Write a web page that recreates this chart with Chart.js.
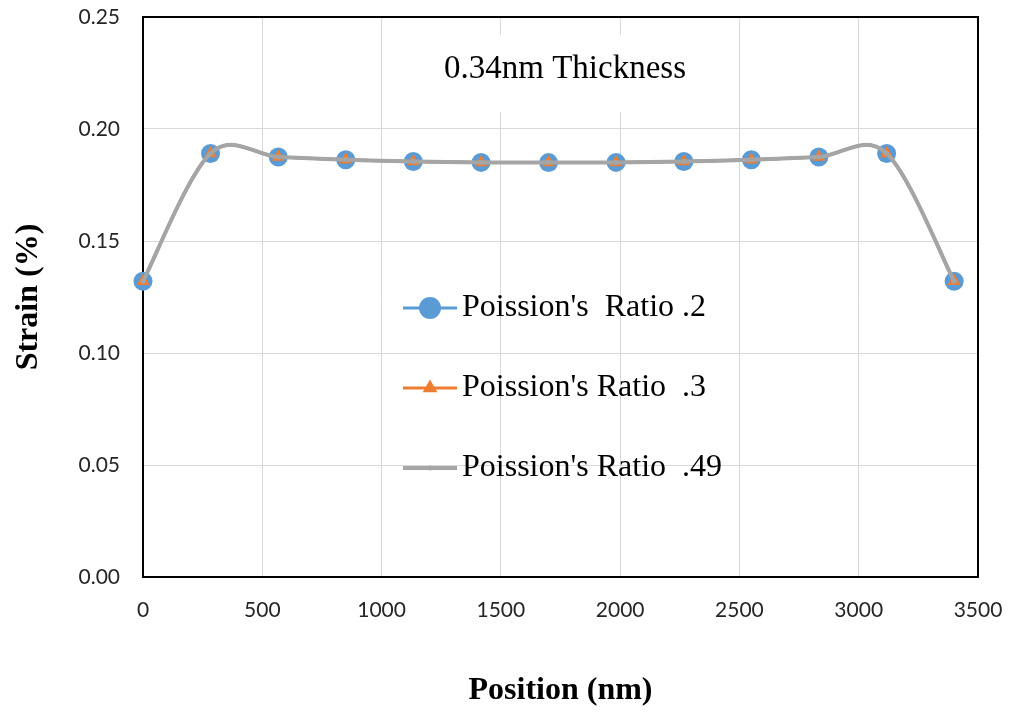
<!DOCTYPE html>
<html>
<head>
<meta charset="utf-8">
<script src="https://cdn.jsdelivr.net/npm/chart.js"></script>
<style>
html,body{margin:0;padding:0;background:#fff;}
#wrap{width:1010px;height:713px;}
</style>
</head>
<body>
<div id="wrap"><canvas id="c" width="1010" height="713"></canvas></div>
<script>
// ---- data ----
const positions = [0, 283, 567, 850, 1133, 1417, 1700, 1983, 2267, 2550, 2833, 3117, 3400];
const ratio02  = [0.1320, 0.1891, 0.1875, 0.1863, 0.1855, 0.1851, 0.1850, 0.1851, 0.1855, 0.1863, 0.1875, 0.1891, 0.1320];
const ratio03  = [0.1320, 0.1891, 0.1875, 0.1863, 0.1855, 0.1851, 0.1850, 0.1851, 0.1855, 0.1863, 0.1875, 0.1891, 0.1320];
const ratio049 = [0.1320, 0.1891, 0.1875, 0.1863, 0.1855, 0.1851, 0.1850, 0.1851, 0.1855, 0.1863, 0.1875, 0.1891, 0.1320];
const seriesLabels = ["Poission's  Ratio .2", "Poission's Ratio  .3", "Poission's Ratio  .49"];
const xTickValues = [0, 500, 1000, 1500, 2000, 2500, 3000, 3500];
const yTickValues = [0, 0.05, 0.10, 0.15, 0.20, 0.25];
const yTickLabels = ['0.00', '0.05', '0.10', '0.15', '0.20', '0.25'];
const chartTitle = '0.34nm Thickness';
const xTitle = 'Position (nm)';
const yTitle = 'Strain (%)';

const BLUE = '#5B9BD5', ORANGE = '#ED7D31', GRAY = '#A5A5A5';
const pts = arr => positions.map((x, i) => ({x: x, y: arr[i]}));

// Excel-style (Catmull-Rom) smoothing of the library's own line path
const smoothing = {
  id: 'smoothing',
  beforeDatasetDraw(chart, args) {
    const meta = args.meta;
    const p = meta.data;
    const n = p.length;
    for (let i = 0; i < n; i++) {
      const a = p[Math.max(i - 1, 0)], b = p[Math.min(i + 1, n - 1)];
      const dx = (b.x - a.x) / 6, dy = (b.y - a.y) / 6;
      p[i].cp1x = p[i].x - dx; p[i].cp1y = p[i].y - dy;
      p[i].cp2x = p[i].x + dx; p[i].cp2y = p[i].y + dy;
    }
    if (meta.dataset) { meta.dataset._pointsUpdated = true; delete meta.dataset._path; }
  }
};

const decor = {
  id: 'decor',
  beforeDatasetsDraw(chart) {
    const {ctx, chartArea: a} = chart;
    ctx.save();
    ctx.strokeStyle = '#000';
    ctx.lineWidth = 2;
    ctx.beginPath();
    ctx.moveTo(a.left, a.top);
    ctx.lineTo(a.right, a.top);
    ctx.lineTo(a.right, a.bottom);
    ctx.stroke();
    ctx.fillStyle = '#fff';
    ctx.fillRect(430, 35, 270, 77);
    ctx.fillStyle = '#000';
    ctx.font = '33px "Liberation Serif", "Times New Roman", serif';
    ctx.textAlign = 'center';
    ctx.textBaseline = 'alphabetic';
    ctx.fillText(chartTitle, 565, 78);
    ctx.restore();
  },
  afterDatasetsDraw(chart) {
    const {ctx} = chart;
    ctx.save();
    const rows = [308, 388, 468];
    chart.data.datasets.forEach((ds, i) => {
      const y = rows[i];
      ctx.strokeStyle = ds.borderColor;
      ctx.lineWidth = ds.borderWidth;
      ctx.beginPath();
      ctx.moveTo(403, y);
      ctx.lineTo(457, y);
      ctx.stroke();
      ctx.fillStyle = ds.pointBackgroundColor;
      ctx.beginPath();
      if (ds.pointStyle === 'circle' && ds.pointRadius > 5) {
        ctx.arc(430, y, 11, 0, Math.PI * 2);
      } else if (ds.pointStyle === 'triangle') {
        const r = 8.5;
        ctx.moveTo(430, y - r);
        ctx.lineTo(430 + r * Math.sin(Math.PI * 2 / 3), y - r * Math.cos(Math.PI * 2 / 3));
        ctx.lineTo(430 - r * Math.sin(Math.PI * 2 / 3), y - r * Math.cos(Math.PI * 2 / 3));
        ctx.closePath();
      } else {
        ctx.arc(430, y, 2.5, 0, Math.PI * 2);
      }
      ctx.fill();
      ctx.fillStyle = '#000';
      ctx.font = '32px "Liberation Serif", "Times New Roman", serif';
      ctx.textAlign = 'left';
      ctx.textBaseline = 'middle';
      ctx.fillText(ds.label, 462, y);
    });
    ctx.restore();
  }
};

new Chart(document.getElementById('c'), {
  type: 'line',
  data: {
    datasets: [
      {label: seriesLabels[0], data: pts(ratio02), borderColor: BLUE, backgroundColor: BLUE,
       pointBackgroundColor: BLUE, pointBorderColor: BLUE, pointStyle: 'circle', pointRadius: 9.5,
       pointBorderWidth: 0, borderWidth: 3, tension: 0.4, order: 3, clip: false},
      {label: seriesLabels[1], data: pts(ratio03), borderColor: ORANGE, backgroundColor: ORANGE,
       pointBackgroundColor: ORANGE, pointBorderColor: ORANGE, pointStyle: 'triangle', pointRadius: 7.5,
       pointBorderWidth: 0, borderWidth: 3, tension: 0.4, order: 2, clip: false},
      {label: seriesLabels[2], data: pts(ratio049), borderColor: GRAY, backgroundColor: GRAY,
       pointBackgroundColor: GRAY, pointBorderColor: GRAY, pointStyle: 'circle', pointRadius: 2.5,
       pointBorderWidth: 0, borderWidth: 4, tension: 0.4, order: 1, clip: false}
    ]
  },
  options: {
    responsive: false,
    animation: false,
    events: [],
    layout: {padding: {top: 17, right: 32, left: 0, bottom: 0}},
    plugins: {legend: {display: false}, tooltip: {enabled: false}},
    scales: {
      x: {
        type: 'linear', min: 0, max: 3500,
        afterBuildTicks: s => { s.ticks = xTickValues.map(v => ({value: v})); },
        afterFit: s => { s.height = 136; s.paddingLeft = 0; s.paddingRight = 0; },
        grid: {color: '#D9D9D9', lineWidth: 1, drawTicks: false},
        border: {color: '#000', width: 2},
        ticks: {padding: 21, color: '#262626', font: {family: 'Lato', size: 21},
                callback: v => String(v)},
        title: {display: true, text: xTitle, color: '#000', padding: {top: 0, bottom: 3},
                font: {family: '"Liberation Serif", "Times New Roman", serif', size: 32, weight: 'bold'}}
      },
      y: {
        min: 0, max: 0.25,
        afterBuildTicks: s => { s.ticks = yTickValues.map(v => ({value: v})); },
        afterFit: s => { s.width = 143; s.paddingTop = 0; s.paddingBottom = 0; },
        grid: {color: '#D9D9D9', lineWidth: 1, drawTicks: false},
        border: {color: '#000', width: 2},
        ticks: {padding: 23, color: '#262626', font: {family: 'Lato', size: 21},
                callback: (v, i) => yTickLabels[yTickValues.findIndex(t => Math.abs(t - v) < 1e-9)]},
        title: {display: true, text: yTitle, color: '#000', padding: {top: 10, bottom: 0},
                font: {family: '"Liberation Serif", "Times New Roman", serif', size: 32, weight: 'bold'}}
      }
    }
  },
  plugins: [smoothing, decor]
});
</script>
</body>
</html>
